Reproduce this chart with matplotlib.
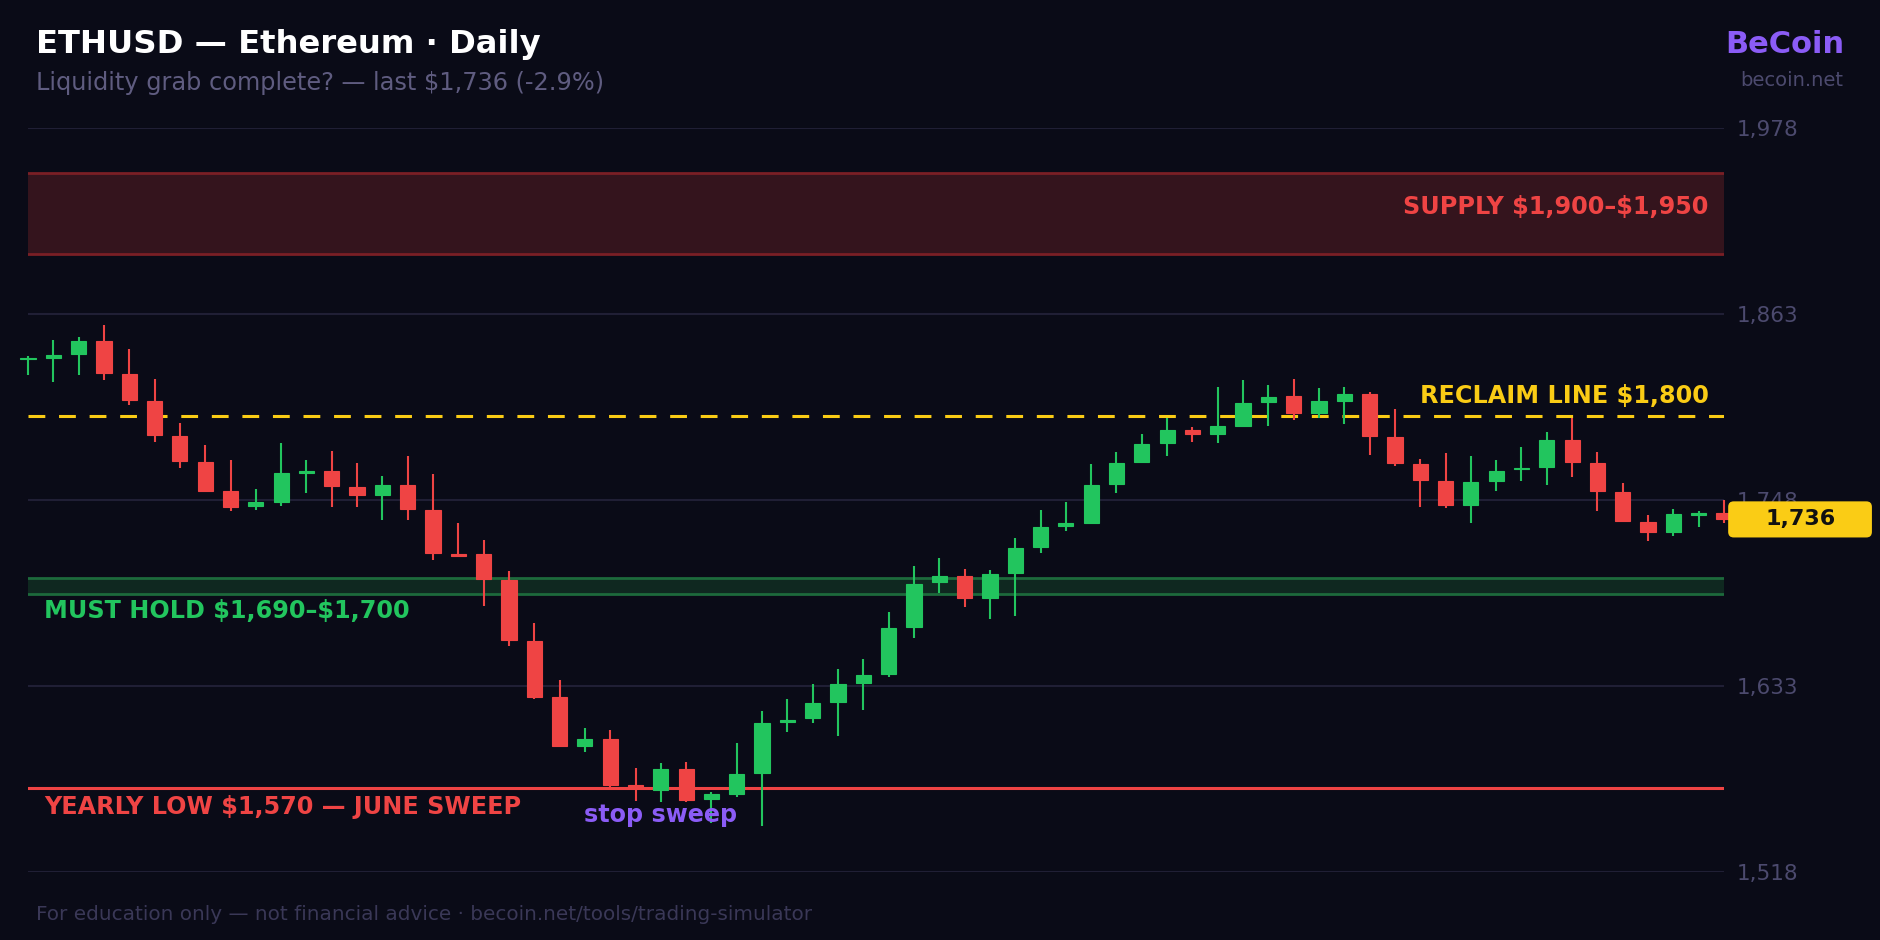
import matplotlib
matplotlib.use("Agg")
import matplotlib.pyplot as plt
import matplotlib.transforms as mtransforms
from matplotlib.patches import Rectangle, FancyBboxPatch
import numpy as np

# daily candles (open, high, low, close)
opens = [1835, 1836, 1838, 1846.5, 1826, 1809.5, 1787.5, 1771.5, 1753.5, 1744,
         1747, 1765, 1766, 1756, 1751, 1757, 1742, 1714.5, 1714.5, 1698.5,
         1661, 1626, 1596, 1600.5, 1571.5, 1569, 1581.5, 1563, 1566.5, 1579.5,
         1610.5, 1613, 1623, 1635, 1640.5, 1669.5, 1697, 1701, 1687.5, 1703,
         1719, 1732, 1734, 1758, 1771.5, 1783.5, 1791.5, 1789, 1794, 1808.5,
         1812, 1802, 1809.5, 1813.5, 1787, 1770.5, 1760, 1745, 1759.5, 1767,
         1768.5, 1785, 1771, 1753, 1734.5, 1728, 1739, 1740]
highs = [1837, 1847, 1848.5, 1856, 1841.5, 1823, 1795.5, 1782, 1773, 1754.5,
         1783, 1772.5, 1778, 1771, 1763, 1775, 1764, 1733.5, 1723.5, 1704,
         1672, 1636.5, 1607, 1605.5, 1582, 1585.5, 1586, 1567.5, 1597.5, 1617.5,
         1625, 1634, 1643.5, 1649.5, 1679, 1707.5, 1712, 1705.5, 1704.5, 1724.5,
         1742, 1746.5, 1770, 1777.5, 1788.5, 1798.5, 1793, 1818, 1822.5, 1819,
         1823, 1817, 1818, 1815, 1804, 1773.5, 1777, 1775, 1772.5, 1781,
         1790, 1798.5, 1777.5, 1758.5, 1739, 1742.5, 1741, 1748]
lows = [1825, 1821, 1825, 1822, 1807, 1784, 1767.5, 1753, 1741.5, 1742,
        1744, 1752.5, 1743.5, 1743.5, 1735.5, 1735.5, 1711, 1713, 1682.5, 1657.5,
        1625, 1595, 1592.5, 1570.5, 1562, 1561, 1561, 1548, 1564.5, 1546.5,
        1604.5, 1610, 1602, 1618, 1638.5, 1662.5, 1690.5, 1682, 1674.5, 1676,
        1715.5, 1729, 1733, 1752.5, 1771, 1775.5, 1784, 1783, 1793, 1794,
        1797.5, 1799, 1795, 1776, 1769, 1743.5, 1743, 1733.5, 1753.5, 1760,
        1757, 1762.5, 1741, 1734.5, 1722.5, 1726, 1731, 1733.8]
closes = [1836, 1837.5, 1846.5, 1826.5, 1810, 1788, 1772, 1753.5, 1743.5, 1746.5,
          1764.5, 1766, 1756.5, 1751, 1757, 1742.5, 1715.5, 1713.5, 1699, 1661.5,
          1626, 1596, 1600.5, 1572, 1570.5, 1581.5, 1562.5, 1566, 1578.5, 1610,
          1612, 1622.5, 1634.5, 1640, 1669, 1696, 1701, 1687.5, 1702.5, 1718.5,
          1731.5, 1733.5, 1757.5, 1771, 1782.5, 1791.5, 1789, 1793.5, 1808, 1811.5,
          1802, 1809, 1813.5, 1787.5, 1771, 1760.5, 1745, 1759, 1766, 1768,
          1785, 1771.5, 1753.5, 1735, 1728, 1739.5, 1740, 1736]

y_ticks = [1518, 1633, 1748, 1863, 1978]
supply_zone = (1900, 1950)
hold_zone = (1690, 1700)
reclaim_level = 1800
yearly_low = 1570
sweep_day = 25

BG = "#0a0b17"
GREEN = "#22c55e"
RED = "#ef4444"
YELLOW = "#facc15"
PURPLE = "#8b5cf6"
MUTED = "#4c4a6e"

fig = plt.figure(figsize=(18.8, 9.4), dpi=100, facecolor=BG)
ax = fig.add_axes([28 / 1880, 68 / 940, 1696 / 1880, 744 / 940])
ax.set_facecolor(BG)

n = len(closes)
x = np.arange(n)
ax.set_xlim(0, n - 1)
ax.set_ylim(y_ticks[0], y_ticks[-1])

# grid
for t in y_ticks:
    ax.axhline(t, color="#201f35", lw=1.5, zorder=0)
ax.set_yticks(y_ticks)
ax.set_yticklabels([f"{t:,}" for t in y_ticks])
ax.yaxis.tick_right()
ax.tick_params(axis="y", length=0, pad=9, labelsize=15.5, labelcolor=MUTED)
ax.set_xticks([])
for s in ax.spines.values():
    s.set_visible(False)

# zones
ax.axhspan(supply_zone[0], supply_zone[1], color="#34141d", lw=0, zorder=1)
for lvl in supply_zone:
    ax.axhline(lvl, color="#7a1f25", lw=2, zorder=1.5)
ax.axhspan(hold_zone[0], hold_zone[1], color="#0f2820", lw=0, zorder=1)
for lvl in hold_zone:
    ax.axhline(lvl, color="#1d6a3c", lw=2, zorder=1.5)
ax.axhline(reclaim_level, color=YELLOW, lw=2.2, ls=(0, (5.5, 4.5)), zorder=2)
ax.axhline(yearly_low, color=RED, lw=2.2, zorder=2)

# candles
body_w = 0.6
for i in range(n):
    o, h, l, c = opens[i], highs[i], lows[i], closes[i]
    col = GREEN if c >= o else RED
    ax.plot([x[i], x[i]], [l, h], color=col, lw=1.5, zorder=3, clip_on=False,
            solid_capstyle="butt")
    lo = min(o, c)
    ht = max(abs(c - o), 0.9)
    ax.add_patch(Rectangle((x[i] - body_w / 2, lo), body_w, ht, facecolor=col,
                           edgecolor=col, lw=0.8, zorder=4, clip_on=False))

# labels on levels
lbl = dict(fontsize=17.2, fontweight="bold", zorder=5)
ax.text(0.991, 1929, r"SUPPLY \$1,900–\$1,950", transform=ax.get_yaxis_transform(),
        ha="right", va="center", color=RED, **lbl)
ax.annotate(r"RECLAIM LINE \$1,800", xy=(0.991, reclaim_level), xycoords=("axes fraction", "data"),
            xytext=(0, 6), textcoords="offset points", ha="right", va="bottom",
            color=YELLOW, **lbl)
ax.annotate(r"MUST HOLD \$1,690–\$1,700", xy=(0.0094, hold_zone[0]), xycoords=("axes fraction", "data"),
            xytext=(0, -4), textcoords="offset points", ha="left", va="top",
            color=GREEN, **lbl)
ax.annotate(r"YEARLY LOW \$1,570 — JUNE SWEEP", xy=(0.0094, yearly_low), xycoords=("axes fraction", "data"),
            xytext=(0, -5), textcoords="offset points", ha="left", va="top",
            color=RED, **lbl)
ax.text(sweep_day, 1553, "stop sweep", ha="center", va="center", color=PURPLE, **lbl)

# last price tag
anchor = mtransforms.ScaledTranslation(1, closes[-1], ax.get_yaxis_transform())
tag_tr = mtransforms.Affine2D().scale(fig.dpi / 72) + anchor
tag = FancyBboxPatch((3, -13), 103.5, 26, boxstyle="round,pad=0,rounding_size=4",
                     facecolor=YELLOW, edgecolor="none", transform=tag_tr, clip_on=False, zorder=6)
ax.add_patch(tag)
ax.text(1, closes[-1], f"{closes[-1]:,.0f}", transform=ax.get_yaxis_transform() +
        mtransforms.ScaledTranslation(55 / 72, 0, fig.dpi_scale_trans),
        ha="center", va="center", color="#111111", fontsize=16, fontweight="bold",
        zorder=7, clip_on=False)

# header / footer
fig.text(36 / 1880, 1 - 53 / 940, "ETHUSD — Ethereum · Daily", color="white",
         fontsize=23.2, fontweight="bold", ha="left", va="baseline")
fig.text(36 / 1880, 1 - 90 / 940, r"Liquidity grab complete? — last \$1,736 (-2.9%)",
         color="#5f5c80", fontsize=17.3, ha="left", va="baseline")
fig.text(1844 / 1880, 1 - 53 / 940, "BeCoin", color=PURPLE, fontsize=22,
         fontweight="bold", ha="right", va="baseline")
fig.text(1843 / 1880, 1 - 86 / 940, "becoin.net", color=MUTED, fontsize=14,
         ha="right", va="baseline")
fig.text(36 / 1880, 1 - 920 / 940,
         "For education only — not financial advice · becoin.net/tools/trading-simulator",
         color="#3a3857", fontsize=14.4, ha="left", va="baseline")

fig.savefig("out.png", dpi=100, facecolor=BG)
